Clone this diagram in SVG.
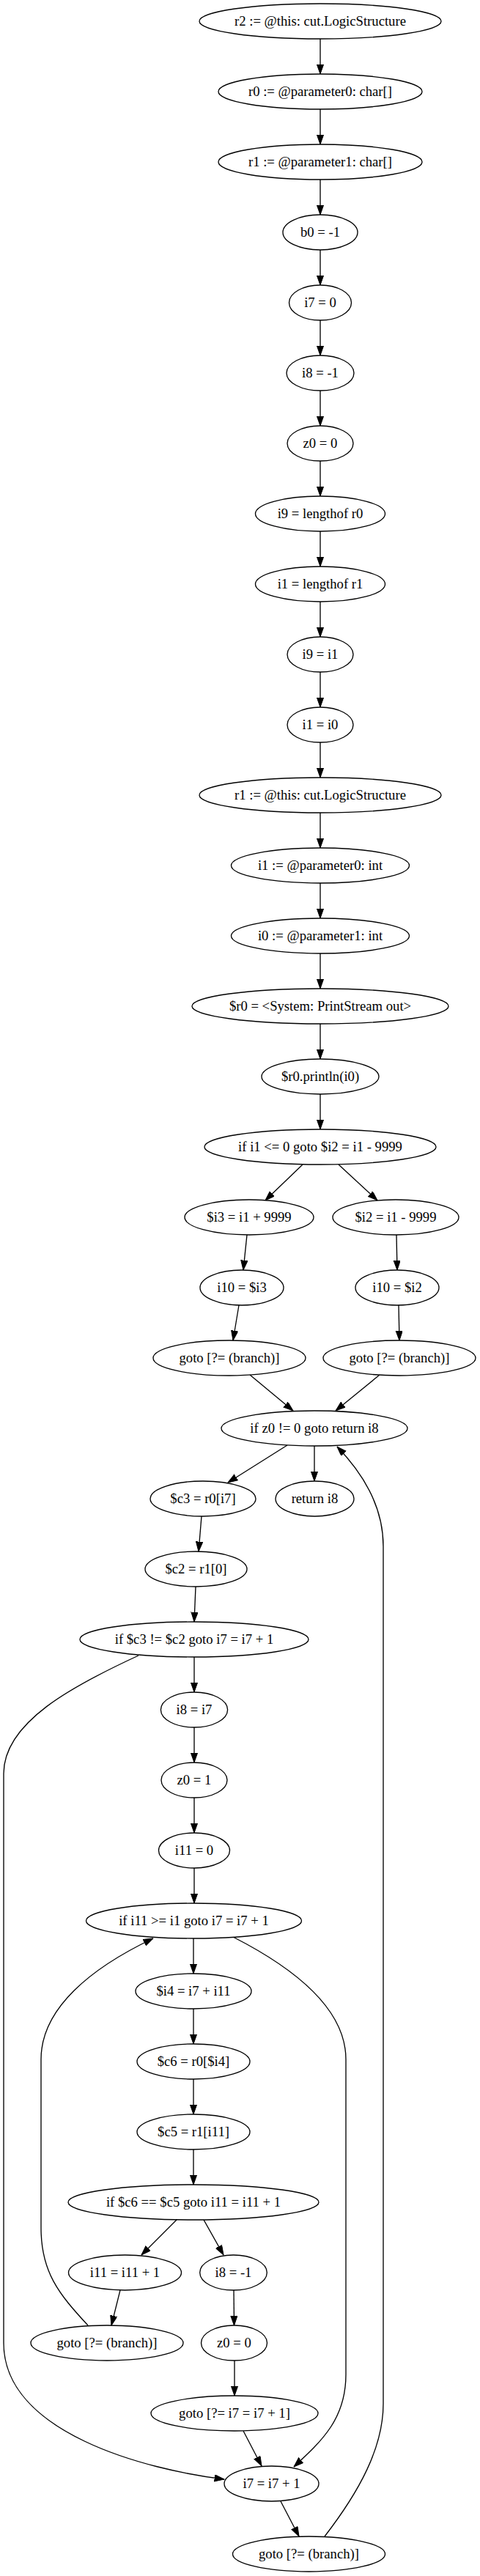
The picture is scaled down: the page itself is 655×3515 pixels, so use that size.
<svg xmlns="http://www.w3.org/2000/svg" width="655" height="3515" viewBox="0 0 655 3515">
<style>
.n ellipse{fill:#fff;stroke:#000;stroke-width:1.33}
.n text{font-family:"Liberation Serif","Times New Roman",serif;font-size:18.67px;text-anchor:middle;fill:#000}
.e path{fill:none;stroke:#000;stroke-width:1.33;marker-end:url(#ah)}
</style>
<defs>
<marker id="ah" markerUnits="userSpaceOnUse" markerWidth="14" markerHeight="10" refX="13.33" refY="4.67" orient="auto" viewBox="0 0 14 10">
<path d="M0,0 L13.33,4.67 L0,9.33 z" fill="#000" stroke="#000" stroke-width="1"/>
</marker>
</defs>
<rect x="0" y="0" width="655" height="3515" fill="#fff"/>
<g id="edges" class="e">
<path d="M437,53 L437,101"/>
<path d="M437,149 L437,197"/>
<path d="M437,245 L437,293"/>
<path d="M437,341 L437,389"/>
<path d="M437,437 L437,485"/>
<path d="M437,533 L437,581"/>
<path d="M437,629 L437,677"/>
<path d="M437,725 L437,773"/>
<path d="M437,821 L437,869"/>
<path d="M437,917 L437,965"/>
<path d="M437,1013 L437,1061"/>
<path d="M437,1109 L437,1157"/>
<path d="M437,1205 L437,1253"/>
<path d="M437,1301 L437,1349"/>
<path d="M437,1397 L437,1445"/>
<path d="M437,1493 L437,1541"/>
<path d="M413,1589 L362,1638"/>
<path d="M462,1589 L515,1638"/>
<path d="M337,1685 L332,1733"/>
<path d="M541,1685 L542,1733"/>
<path d="M326,1781 L318,1829"/>
<path d="M544,1781 L545,1829"/>
<path d="M341,1876 L400,1925"/>
<path d="M518,1876 L458,1925"/>
<path d="M392,1972 L311,2023"/>
<path d="M429,1973 L429,2021"/>
<path d="M275,2069 L271,2117"/>
<path d="M267,2165 L265,2213"/>
<path d="M265,2261 L265,2309"/>
<path d="M265,2357 L265,2405"/>
<path d="M265,2453 L265,2501"/>
<path d="M265,2549 L265,2597"/>
<path d="M264,2645 L264,2693"/>
<path d="M264,2741 L264,2789"/>
<path d="M264,2837 L264,2885"/>
<path d="M264,2933 L264,2981"/>
<path d="M241,3029 L193,3077"/>
<path d="M278,3029 L305,3077"/>
<path d="M164,3125 L152,3173"/>
<path d="M319,3125 L319.5,3173"/>
<path d="M320,3221 L320,3269"/>
<path d="M332,3317 L357,3365"/>
<path d="M383,3413 L408,3461"/>
<path d="M120,3173 C80,3130 56,3100 56,3040 L56,2810 C56,2740 125,2685 209,2645"/>
<path d="M318,2643 C420,2695 472,2750 472,2810 L472,3240 C472,3300 440,3330 401,3366"/>
<path d="M189,2259 C100,2300 5,2350 5,2420 L5,3197 C5,3320 200,3370 306,3383"/>
<path d="M443,3461 C490,3400 523,3340 523,3280 L523,2110 C523,2050 490,2005 460,1974"/>
</g>
<g id="n0" class="n"><ellipse cx="437" cy="29" rx="165" ry="24"/><text x="437" y="35">r2 := @this: cut.LogicStructure</text></g>
<g id="n1" class="n"><ellipse cx="437" cy="125" rx="139" ry="24"/><text x="437" y="131">r0 := @parameter0: char[]</text></g>
<g id="n2" class="n"><ellipse cx="437" cy="221" rx="139" ry="24"/><text x="437" y="227">r1 := @parameter1: char[]</text></g>
<g id="n3" class="n"><ellipse cx="437" cy="317" rx="51" ry="24"/><text x="437" y="323">b0 = -1</text></g>
<g id="n4" class="n"><ellipse cx="437" cy="413" rx="42.5" ry="24"/><text x="437" y="419">i7 = 0</text></g>
<g id="n5" class="n"><ellipse cx="437" cy="509" rx="46" ry="24"/><text x="437" y="515">i8 = -1</text></g>
<g id="n6" class="n"><ellipse cx="437" cy="605" rx="45" ry="24"/><text x="437" y="611">z0 = 0</text></g>
<g id="n7" class="n"><ellipse cx="437" cy="701" rx="88.5" ry="24"/><text x="437" y="707">i9 = lengthof r0</text></g>
<g id="n8" class="n"><ellipse cx="437" cy="797" rx="88.5" ry="24"/><text x="437" y="803">i1 = lengthof r1</text></g>
<g id="n9" class="n"><ellipse cx="437" cy="893" rx="45" ry="24"/><text x="437" y="899">i9 = i1</text></g>
<g id="n10" class="n"><ellipse cx="437" cy="989" rx="45" ry="24"/><text x="437" y="995">i1 = i0</text></g>
<g id="n11" class="n"><ellipse cx="437" cy="1085" rx="165" ry="24"/><text x="437" y="1091">r1 := @this: cut.LogicStructure</text></g>
<g id="n12" class="n"><ellipse cx="437" cy="1181" rx="121.5" ry="24"/><text x="437" y="1187">i1 := @parameter0: int</text></g>
<g id="n13" class="n"><ellipse cx="437" cy="1277" rx="121.5" ry="24"/><text x="437" y="1283">i0 := @parameter1: int</text></g>
<g id="n14" class="n"><ellipse cx="437" cy="1373" rx="175" ry="24"/><text x="437" y="1379">$r0 = &lt;System: PrintStream out&gt;</text></g>
<g id="n15" class="n"><ellipse cx="437" cy="1469" rx="80" ry="24"/><text x="437" y="1475">$r0.println(i0)</text></g>
<g id="n16" class="n"><ellipse cx="437" cy="1565" rx="158" ry="24"/><text x="437" y="1571">if i1 &lt;= 0 goto $i2 = i1 - 9999</text></g>
<g id="n17" class="n"><ellipse cx="340" cy="1661" rx="88" ry="24"/><text x="340" y="1667">$i3 = i1 + 9999</text></g>
<g id="n18" class="n"><ellipse cx="540" cy="1661" rx="86" ry="24"/><text x="540" y="1667">$i2 = i1 - 9999</text></g>
<g id="n19" class="n"><ellipse cx="330" cy="1757" rx="57" ry="24"/><text x="330" y="1763">i10 = $i3</text></g>
<g id="n20" class="n"><ellipse cx="542" cy="1757" rx="57" ry="24"/><text x="542" y="1763">i10 = $i2</text></g>
<g id="n21" class="n"><ellipse cx="313" cy="1853" rx="104" ry="24"/><text x="313" y="1859">goto [?= (branch)]</text></g>
<g id="n22" class="n"><ellipse cx="545" cy="1853" rx="104" ry="24"/><text x="545" y="1859">goto [?= (branch)]</text></g>
<g id="n23" class="n"><ellipse cx="429" cy="1949" rx="127" ry="24"/><text x="429" y="1955">if z0 != 0 goto return i8</text></g>
<g id="n24" class="n"><ellipse cx="277" cy="2045" rx="72" ry="24"/><text x="277" y="2051">$c3 = r0[i7]</text></g>
<g id="n25" class="n"><ellipse cx="429.5" cy="2045" rx="53.5" ry="24"/><text x="429.5" y="2051">return i8</text></g>
<g id="n26" class="n"><ellipse cx="267.5" cy="2141" rx="69.5" ry="24"/><text x="267.5" y="2147">$c2 = r1[0]</text></g>
<g id="n27" class="n"><ellipse cx="265" cy="2237" rx="156" ry="24"/><text x="265" y="2243">if $c3 != $c2 goto i7 = i7 + 1</text></g>
<g id="n28" class="n"><ellipse cx="265" cy="2333" rx="45.6" ry="24"/><text x="265" y="2339">i8 = i7</text></g>
<g id="n29" class="n"><ellipse cx="265" cy="2429" rx="45" ry="24"/><text x="265" y="2435">z0 = 1</text></g>
<g id="n30" class="n"><ellipse cx="265" cy="2525" rx="48.5" ry="24"/><text x="265" y="2531">i11 = 0</text></g>
<g id="n31" class="n"><ellipse cx="264.5" cy="2621" rx="147" ry="24"/><text x="264.5" y="2627">if i11 &gt;= i1 goto i7 = i7 + 1</text></g>
<g id="n32" class="n"><ellipse cx="264" cy="2717" rx="79" ry="24"/><text x="264" y="2723">$i4 = i7 + i11</text></g>
<g id="n33" class="n"><ellipse cx="264" cy="2813" rx="77" ry="24"/><text x="264" y="2819">$c6 = r0[$i4]</text></g>
<g id="n34" class="n"><ellipse cx="264" cy="2909" rx="77" ry="24"/><text x="264" y="2915">$c5 = r1[i11]</text></g>
<g id="n35" class="n"><ellipse cx="264" cy="3005" rx="171" ry="24"/><text x="264" y="3011">if $c6 == $c5 goto i11 = i11 + 1</text></g>
<g id="n36" class="n"><ellipse cx="170.5" cy="3101" rx="77" ry="24"/><text x="170.5" y="3107">i11 = i11 + 1</text></g>
<g id="n37" class="n"><ellipse cx="318.5" cy="3101" rx="45.8" ry="24"/><text x="318.5" y="3107">i8 = -1</text></g>
<g id="n38" class="n"><ellipse cx="146" cy="3197" rx="104" ry="24"/><text x="146" y="3203">goto [?= (branch)]</text></g>
<g id="n39" class="n"><ellipse cx="319.5" cy="3197" rx="45" ry="24"/><text x="319.5" y="3203">z0 = 0</text></g>
<g id="n40" class="n"><ellipse cx="320" cy="3293" rx="114" ry="24"/><text x="320" y="3299">goto [?= i7 = i7 + 1]</text></g>
<g id="n41" class="n"><ellipse cx="370.5" cy="3389" rx="64.5" ry="24"/><text x="370.5" y="3395">i7 = i7 + 1</text></g>
<g id="n42" class="n"><ellipse cx="421.5" cy="3485" rx="104" ry="24"/><text x="421.5" y="3491">goto [?= (branch)]</text></g>
</svg>
